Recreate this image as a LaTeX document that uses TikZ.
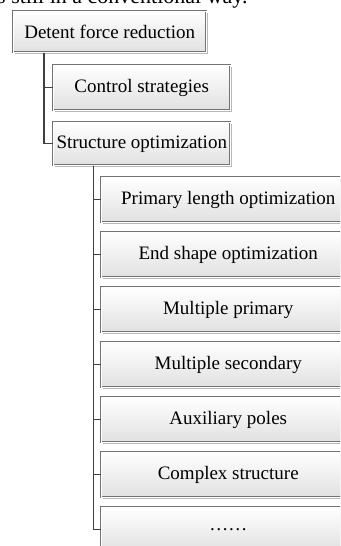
\documentclass[tikz,border=0pt]{standalone}
\usepackage{fontspec}
\setmainfont{Liberation Serif}
\usetikzlibrary{shadows}
\begin{document}
\begin{tikzpicture}[x=1pt,y=-1pt,
  box/.style={draw=black!55, line width=0.5pt, double=white, double distance=1pt,
    top color=white, bottom color=black!12, anchor=north west,
    inner sep=0pt, font=\fontsize{19}{22}\selectfont,
    drop shadow={shadow xshift=1.6pt, shadow yshift=-1.6pt, fill=black!35, opacity=0.8}},
  link/.style={draw=black!75, line width=1.1pt}]
\useasboundingbox (0,0) rectangle (340,546);
\clip (0,0) rectangle (340,546);
% tail of the running text above the chart
\node[anchor=base west, inner sep=0pt, font=\fontsize{22}{26}\selectfont] (tail) at (-3,3.5) {s still in a conventional way.};
% main branches
\node[box, minimum width=193pt, minimum height=41pt] (root) at (13,11) {Detent force reduction};
\node[box, minimum width=177pt, minimum height=45pt] (ctrl) at (53,65) {Control strategies};
\node[box, minimum width=177pt, minimum height=43pt] (struct) at (53,122) {Structure optimization};
% sub-branches of structure optimization
\foreach \n/\t [count=\i from 0] in {len/Primary length optimization, endsh/End shape optimization,
    mprim/Multiple primary, msec/Multiple secondary, aux/Auxiliary poles,
    cplx/Complex structure, more/\ldots\ldots}
  \node[box, minimum width=254pt, minimum height=45pt] (\n) at (101,177+55*\i) {\t};
% connectors
\draw[link] ([xshift=31pt]root.south west) |- (ctrl.west);
\draw[link] ([xshift=31pt]root.south west) |- (struct.west);
\foreach \n in {len,endsh,mprim,msec,aux,cplx,more}
  \draw[link] ([xshift=40.5pt]struct.south west) |- (\n.west);
\end{tikzpicture}
\end{document}
